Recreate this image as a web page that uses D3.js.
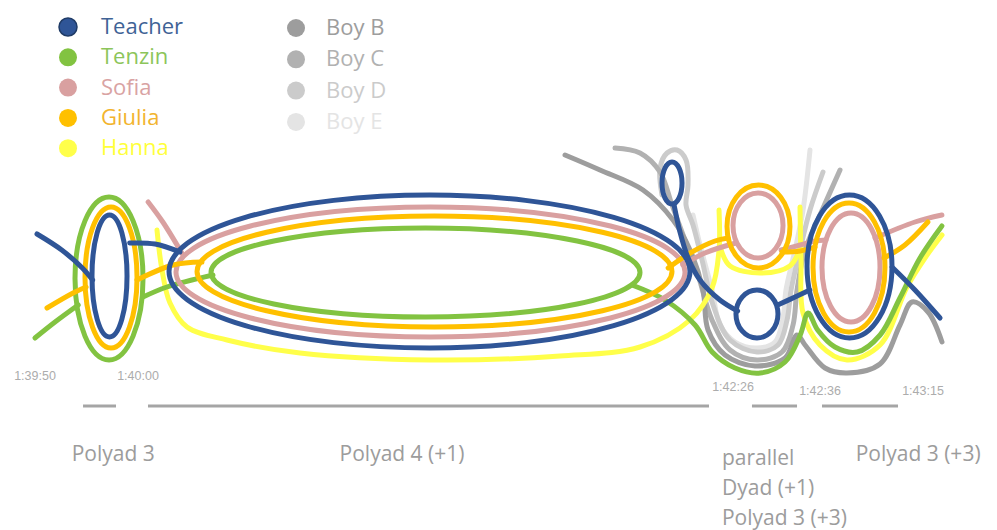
<!DOCTYPE html>
<html>
<head>
<meta charset="utf-8">
<script src="https://cdn.jsdelivr.net/npm/d3@7"></script>
<style>
  body { margin: 0; background: #fff; }
  svg { display: block; }
</style>
</head>
<body>
<script>
// people in the scene and their colours
var people = ["Teacher", "Tenzin", "Sofia", "Giulia", "Hanna"];
var peopleColors = ["#2f5597", "#82c341", "#d9a0a0", "#ffc000", "#ffff4a"];
var boys = ["Boy B", "Boy C", "Boy D", "Boy E"];
var boyColors = ["#9d9d9d", "#b1b1b1", "#cbcbcb", "#e4e4e4"];

// time axis (seconds after 1:39:50)
var tickSeconds = [0, 10, 156, 166, 205];
var tickLabels = ["1:39:50", "1:40:00", "1:42:26", "1:42:36", "1:43:15"];

// phases of the interaction
var phaseStart = [4.47, 11.96, 157.95, 166];
var phaseEnd = [7.67, 149.62, 163.13, 194.78];
var phaseLabelAt = [7.4, 74.3, 152.8, 202.4];
var phaseLabels = [["Polyad 3"], ["Polyad 4 (+1)"], ["parallel", "Dyad  (+1)", "Polyad 3 (+3)"], ["Polyad 3 (+3)"]];

// meetings drawn as rings: [who, start, end, top, bottom]
var loops = [
  ["Tenzin", 3.69, 10.74, 75, -88],
  ["Giulia", 4.66, 9.71, 65, -76],
  ["Teacher", 5.34, 8.74, 57, -65],
  ["Tenzin", 27.42, 132.69, 44, -45],
  ["Giulia", 23.99, 140.54, 56, -55],
  ["Sofia", 18.83, 143.73, 65, -65],
  ["Teacher", 17.12, 144.96, 77, -76],
  ["Teacher", 138.09, 143.0, 110, 68],
  ["Giulia", 154.04, 162.32, 87, 4],
  ["Sofia", 155.51, 161.52, 79, 14],
  ["Teacher", 156.11, 160.94, -18, -66],
  ["Teacher", 164.28, 192.5, 77, -66],
  ["Giulia", 164.97, 189.85, 69, -60],
  ["Sofia", 166, 187.96, 59, -50]
];

// strands between meetings: [seconds, height]
var teacherStrands = [
  [[0, 38], [2.4, 22], [4.4, 4], [5.4, -8]],
  [[9.0, 29], [13.7, 28], [19.8, 20]],
  [[141.0, 68], [142.5, 40], [144.5, 14], [147.4, -8], [152.3, -28], [156.3, -39]],
  [[160.9, -33], [162.9, -25], [164.6, -18]],
  [[192.5, 5], [201.2, -18], [210.7, -46]]
];
var tenzinStrands = [
  [[-0.2, -66], [1.75, -50], [4.0, -33]],
  [[10.74, -25], [16.6, -15], [27.9, -3]],
  [[130.7, -13], [138.8, -28], [146.2, -53], [150.4, -80], [156, -96], [158.9, -101], [161.75, -90],
   [163.5, -63], [164.4, -41], [165.5, -58], [170.9, -75], [179.3, -80], [188, -63], [195.5, -26],
   [203.1, 14], [211.4, 46]]
];
var sofiaStrands = [
  [[12.0, 70], [15.6, 50], [20.55, 17]],
  [[143.2, 7], [148.6, 19], [156.1, 29]],
  [[161.3, 22], [163.5, 27], [165.2, 31], [167.5, 32]],
  [[186.1, 34], [201.2, 50], [211.4, 57]]
];
var giuliaStrands = [
  [[0.97, -36], [3.5, -21], [4.76, -15]],
  [[9.71, -8], [18.1, 7], [25.2, 10]],
  [[139.6, 4], [145, 19], [151.1, 31], [154.3, 34]],
  [[161.4, 20], [163.5, 21], [165.2, 25]],
  [[189.5, 14], [197.4, 27], [206.1, 50]]
];
var hannaStrands = [
  [[14.17, 42], [15.4, 2], [17.36, -31], [21.53, -55], [31.35, -68], [49.26, -81], [81.16, -88],
   [113.06, -84], [132.69, -75], [144.96, -48], [150.36, -16], [152.08, 22], [152.08, 62]],
  [[152.6, 22], [154.8, 6], [158.9, -1], [162.3, 6], [163.5, 24]],
  [[163.47, 65], [163.59, 12], [163.82, -41], [165.77, -73], [175.47, -88], [187.96, -73],
   [198.18, -15], [205, 14], [211.44, 37]]
];
var boyBStrand = [[114.29, 117], [122.87, 102], [133.43, 82], [140.79, 52], [144.96, 22], [148.15, -18],
  [149.38, -58], [153.56, -83], [158.3, -94], [161.75, -86], [163.13, -63], [164.05, -73],
  [167.14, -96], [175.47, -101], [187.96, -92], [195.53, -53], [200.08, -30], [206.14, -40], [211.44, -70]];
var boyCStrand = [[126.56, 124], [132.69, 119], [137.6, 100], [140.54, 67], [143.73, 32], [146.92, -3],
  [150.36, -48], [154.78, -78], [158.53, -88], [161.4, -80], [162.67, -53], [163.13, -18],
  [164.05, 22], [165.77, 57], [172.82, 102]];
var boyDStrand = [[138.09, 77], [137.6, 104], [139.32, 119], [141.77, 122], [143.98, 112], [144.47, 87],
  [143.98, 67], [145.7, 47], [147.91, 12], [150.61, -33], [154.78, -68], [158.53, -80], [160.94, -73],
  [161.98, -48], [162.44, -18], [163.47, 22], [164.62, 62], [166.38, 100]];
var boyEStrand = [[145.7, 57], [147.42, 27], [150.36, -18], [152.33, -53], [156, -70], [158.53, -76],
  [160.6, -70], [161.52, -46], [161.86, -18], [162.9, 22], [163.82, 62], [164.62, 122]];

var w = 997, h = 530;
var svg = d3.select("body").append("svg").attr("width", w).attr("height", h);

var x = d3.scaleLinear().domain(tickSeconds).range([37, 140, 735, 822, 925]);
var y = d3.scaleLinear().domain([-100, 100]).range([372, 172]);
var color = d3.scaleOrdinal().domain(people.concat(boys)).range(peopleColors.concat(boyColors));

var line = d3.line()
  .x(function (d) { return x(d[0]); })
  .y(function (d) { return y(d[1]); })
  .curve(d3.curveCatmullRom.alpha(0.5));

// gather every strand with its owner, drawn bottom layer first
var strands = [];
[[boys[3], [boyEStrand]], [boys[2], [boyDStrand]], [boys[1], [boyCStrand]], [boys[0], [boyBStrand]]]
  .forEach(function (b) { b[1].forEach(function (s) { strands.push({ who: b[0], pts: s }); }); });
var order = ["Hanna", "Tenzin", "Sofia", "Giulia", "Teacher"];
var strandsOf = { Teacher: teacherStrands, Tenzin: tenzinStrands, Sofia: sofiaStrands, Giulia: giuliaStrands, Hanna: hannaStrands };

var plot = svg.append("g").attr("fill", "none").attr("stroke-width", 5).attr("stroke-linecap", "round");

plot.selectAll("path.boy").data(strands)
  .enter().append("path")
  .attr("class", "boy")
  .attr("d", function (d) { return line(d.pts); })
  .attr("stroke", function (d) { return color(d.who); });

order.forEach(function (p) {
  var g = plot.append("g").attr("stroke", color(p));
  g.selectAll("path").data(strandsOf[p])
    .enter().append("path")
    .attr("d", line);
  g.selectAll("ellipse").data(loops.filter(function (l) { return l[0] === p; }))
    .enter().append("ellipse")
    .attr("cx", function (d) { return (x(d[1]) + x(d[2])) / 2; })
    .attr("rx", function (d) { return (x(d[2]) - x(d[1])) / 2; })
    .attr("cy", function (d) { return (y(d[3]) + y(d[4])) / 2; })
    .attr("ry", function (d) { return (y(d[4]) - y(d[3])) / 2; });
});

// time labels
var tickY = [380, 380, 391, 395, 395];
svg.selectAll("text.tick").data(tickLabels)
  .enter().append("text")
  .attr("class", "tick")
  .attr("x", function (d, i) { return x(tickSeconds[i]) - 2; })
  .attr("y", function (d, i) { return tickY[i]; })
  .attr("text-anchor", "middle")
  .attr("font-family", "Liberation Sans, Arial, sans-serif")
  .attr("font-size", "12.5px")
  .attr("fill", "#acacac")
  .text(function (d) { return d; });

// phase bars and labels
svg.selectAll("line.phase").data(phaseStart)
  .enter().append("line")
  .attr("class", "phase")
  .attr("x1", function (d) { return x(d); })
  .attr("x2", function (d, i) { return x(phaseEnd[i]); })
  .attr("y1", 406).attr("y2", 406)
  .attr("stroke", "#a5a5a5").attr("stroke-width", 3);

var labelAnchor = ["middle", "middle", "start", "middle"];
phaseLabels.forEach(function (lines, i) {
  svg.selectAll("text.ph" + i).data(lines)
    .enter().append("text")
    .attr("class", "ph" + i)
    .attr("x", x(phaseLabelAt[i]))
    .attr("y", function (d, j) { return (i === 2 ? 465 : 461) + j * 30; })
    .attr("text-anchor", labelAnchor[i])
    .attr("font-family", "Open Sans, sans-serif")
    .attr("font-size", "21px")
    .attr("fill", "#9c9c9c")
    .text(function (d) { return d; });
});

// legend
var legend = svg.append("g").attr("font-family", "Open Sans, sans-serif").attr("font-size", "22px");
legend.selectAll("circle.p").data(people)
  .enter().append("circle")
  .attr("class", "p")
  .attr("cx", 68).attr("cy", function (d, i) { return 27 + i * 30.3; })
  .attr("r", 9)
  .attr("fill", function (d) { return color(d); })
  .attr("stroke", function (d, i) { return i === 0 ? "#1f3b66" : "none"; })
  .attr("stroke-width", 1.5);
legend.selectAll("text.p").data(people)
  .enter().append("text")
  .attr("class", "p")
  .attr("x", 101).attr("y", function (d, i) { return 34 + i * 30.3; })
  .attr("fill", function (d, i) { return ["#3f6396", "#8cc55a", "#d9a3a3", "#f2b42e", "#ffff3a"][i]; })
  .text(function (d) { return d; });
legend.selectAll("circle.b").data(boys)
  .enter().append("circle")
  .attr("class", "b")
  .attr("cx", 296).attr("cy", function (d, i) { return 28 + i * 31.3; })
  .attr("r", 9)
  .attr("fill", function (d) { return color(d); });
legend.selectAll("text.b").data(boys)
  .enter().append("text")
  .attr("class", "b")
  .attr("x", 326).attr("y", function (d, i) { return 35 + i * 31.3; })
  .attr("fill", function (d) { return color(d); })
  .text(function (d) { return d; });
</script>
</body>
</html>
